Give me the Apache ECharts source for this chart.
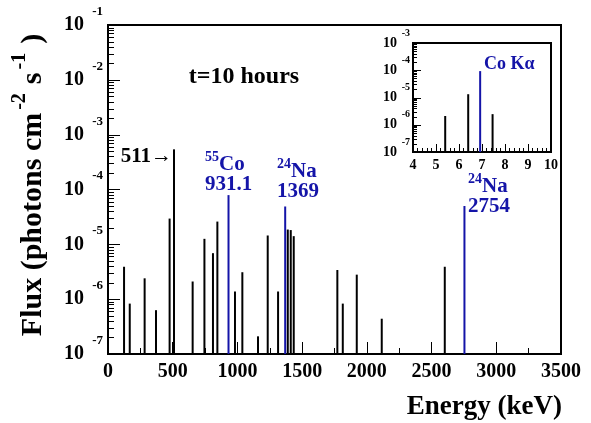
<!DOCTYPE html>
<html>
<head>
<meta charset="utf-8">
<script src="https://cdn.jsdelivr.net/npm/echarts@6/dist/echarts.min.js"></script>
<style>
  html, body { margin: 0; padding: 0; background: #fff; }
  #chart { width: 591px; height: 423px; }
</style>
</head>
<body>
<div id="chart"></div>
<script>
// gamma lines (keV) and flux (photons cm^-2 s^-1)
const lineEnergy = [124, 168, 283, 371, 476, 510, 654, 745, 811, 845, 981, 1038,
  1159, 1234, 1314, 1389, 1412, 1435, 1772, 1814, 1922, 2115, 2602]
const lineFlux = [3.9e-6, 8.3e-7, 2.4e-6, 6.3e-7, 2.95e-5, 5.4e-4, 2.1e-6, 1.26e-5,
  6.9e-6, 2.6e-5, 1.38e-6, 3.1e-6, 2.1e-7, 1.45e-5, 1.38e-6, 1.86e-5, 1.82e-5,
  1.41e-5, 3.4e-6, 8.3e-7, 2.8e-6, 4.4e-7, 3.9e-6]
// highlighted lines: 55Co 931.1, 24Na 1369, 24Na 2754
const markEnergy = [931.1, 1369, 2754]
const markFlux = [7.9e-5, 4.9e-5, 5.0e-5]
// x-ray inset (keV)
const xrayEnergy = [5.40, 6.40, 7.46]
const xrayFlux = [2.1e-6, 1.32e-5, 2.45e-6]
const coKaEnergy = [6.92]
const coKaFlux = [9.3e-5]
// decades of the two log axes
const mainDecades = [-7, -6, -5, -4, -3, -2, -1]
const insetDecades = [-7, -6, -5, -4, -3]

const FONT = 'Liberation Serif'
const BLUE = '#1414a8'
const chart = echarts.init(document.getElementById('chart'))

const ctx = document.createElement('canvas').getContext('2d')
function textWidth(t, size) {
  ctx.font = 'bold ' + size + 'px ' + FONT
  return ctx.measureText(t).width
}

// text pieces laid out left to right, dy moves superscripts up
function pieceRow(pieces, color) {
  let x = 0
  const els = []
  pieces.forEach(p => {
    x += p.pre || 0
    els.push({
      type: 'text', x: x, y: p.dy || 0,
      style: { text: p.t, font: 'bold ' + p.size + 'px ' + FONT, fill: color, align: 'left', verticalAlign: 'middle' }
    })
    x += textWidth(p.t, p.size) + (p.post || 0)
  })
  return { els, width: x }
}

function pairs(xs, ys) {
  return xs.map((x, i) => [x, ys[i]])
}

function stickSeries(data, color, gridIdx, yMin) {
  return {
    type: 'custom',
    xAxisIndex: gridIdx,
    yAxisIndex: gridIdx,
    data: data,
    z: 3,
    renderItem(params, api) {
      const top = api.coord([api.value(0), api.value(1)])
      const bot = api.coord([api.value(0), yMin])
      return {
        type: 'line',
        shape: { x1: top[0], y1: top[1], x2: bot[0], y2: bot[1] },
        style: { stroke: color, lineWidth: 2 }
      }
    }
  }
}

// log ticks on the left edge: major at 10^n, minor at 2..9 x 10^n
function logTicks(decades, gridIdx, xMin, majorLen, minorLen) {
  const out = []
  decades.forEach((d, i) => {
    const ks = i === decades.length - 1 ? [1] : [1, 2, 3, 4, 5, 6, 7, 8, 9]
    ks.forEach(k => {
      const p = chart.convertToPixel({ gridIndex: gridIdx }, [xMin, k * Math.pow(10, d)])
      const x = Math.round(p[0])
      const y = Math.round(p[1]) + 0.5
      out.push({
        type: 'line', z: 100, silent: true,
        shape: { x1: x, y1: y, x2: x + (k === 1 ? majorLen : minorLen), y2: y },
        style: { stroke: '#000', lineWidth: 1 }
      })
    })
  })
  return out
}

// "10" with the exponent raised above its right side
function expLabel(v) {
  return '{e|' + Math.round(Math.log10(v)) + '}\n{b|10}{g| }\n{z| }'
}
function expRich(base, sup, raise, gap) {
  const s = { fontFamily: FONT, fontWeight: 'bold', color: '#000' }
  const h = raise * 2 - base
  return {
    e: Object.assign({ fontSize: sup, lineHeight: h }, s),
    b: Object.assign({ fontSize: base, lineHeight: base }, s),
    g: Object.assign({ fontSize: 2, lineHeight: base, width: gap }, s),
    z: Object.assign({ fontSize: 2, lineHeight: h }, s)
  }
}

// y title, rotated
const yTitle = pieceRow([
  { t: 'Flux (photons cm', size: 30 },
  { t: '-2', size: 20, dy: -13, pre: 3, post: 9 },
  { t: 's', size: 30 },
  { t: '-1', size: 20, dy: -13, pre: 3, post: 9 },
  { t: ')', size: 30 }
], '#000')
yTitle.els.forEach(e => { e.x -= yTitle.width / 2 })

function isotope(x, y, sup, name, energy) {
  const row = pieceRow([
    { t: sup, size: 14, dy: -8 },
    { t: name, size: 21 }
  ], BLUE)
  row.els.push({
    type: 'text', x: 0, y: 20,
    style: { text: energy, font: 'bold 21px ' + FONT, fill: BLUE, align: 'left', verticalAlign: 'middle' }
  })
  return { type: 'group', x: x, y: y, children: row.els }
}

const texts = [
  { type: 'group', x: 33, y: 185, rotation: Math.PI / 2, children: yTitle.els },
  { type: 'text', style: { text: 't=10 hours', x: 244, y: 77, align: 'center', verticalAlign: 'middle',
    font: 'bold 24px ' + FONT, fill: '#000' } },
  { type: 'text', style: { text: '511\u2192', x: 172, y: 157, align: 'right', verticalAlign: 'middle',
    font: 'bold 21px ' + FONT, fill: '#000' } },
  isotope(205, 165, '55', 'Co', '931.1'),
  isotope(277, 172, '24', 'Na', '1369'),
  isotope(468, 187, '24', 'Na', '2754'),
  { type: 'text', style: { text: 'Co K\u03b1', x: 484, y: 64, align: 'left', verticalAlign: 'middle',
    font: 'bold 18px ' + FONT, fill: BLUE } },
  { type: 'text', style: { text: 'Energy (keV)', x: 562, y: 407, align: 'right', verticalAlign: 'middle',
    font: 'bold 27px ' + FONT, fill: '#000' } }
]

const option = {
  animation: false,
  backgroundColor: '#fff',
  grid: [
    { left: 108, right: 30, top: 25, bottom: 69, show: true, borderColor: '#000', borderWidth: 2 },
    { left: 413, right: 40, top: 43, bottom: 271, show: true, borderColor: '#000', borderWidth: 2 }
  ],
  xAxis: [
    {
      type: 'value', gridIndex: 0, min: 0, max: 3500, interval: 500,
      axisLine: { lineStyle: { color: '#000', width: 2 } },
      axisTick: { inside: true, length: 12, lineStyle: { color: '#000', width: 1 } },
      minorTick: { show: true, splitNumber: 2, length: 6, lineStyle: { color: '#000', width: 1 } },
      splitLine: { show: false },
      axisLabel: { color: '#000', fontFamily: FONT, fontWeight: 'bold', fontSize: 20, margin: 8,
        formatter: v => String(v) }
    },
    {
      type: 'value', gridIndex: 1, min: 4, max: 10, interval: 1,
      axisLine: { lineStyle: { color: '#000', width: 2 } },
      axisTick: { inside: true, length: 8, lineStyle: { color: '#000', width: 1 } },
      minorTick: { show: true, splitNumber: 5, length: 4, lineStyle: { color: '#000', width: 1 } },
      splitLine: { show: false },
      axisLabel: { color: '#000', fontFamily: FONT, fontWeight: 'bold', fontSize: 14, margin: 6,
        formatter: v => String(v) }
    }
  ],
  yAxis: [
    {
      type: 'log', gridIndex: 0, min: 1e-7, max: 1e-1, logBase: 10,
      axisLine: { show: true, lineStyle: { color: '#000', width: 2 } },
      axisTick: { show: false },
      splitLine: { show: false },
      axisLabel: { margin: 5, formatter: expLabel, rich: expRich(20, 13, 13.5, 19) }
    },
    {
      type: 'log', gridIndex: 1, min: 1e-7, max: 1e-3, logBase: 10,
      axisLine: { show: true, lineStyle: { color: '#000', width: 2 } },
      axisTick: { show: false },
      splitLine: { show: false },
      axisLabel: { margin: 3, formatter: expLabel, rich: expRich(14, 10, 10, 13) }
    }
  ],
  series: [
    stickSeries(pairs(lineEnergy, lineFlux), '#000', 0, 1e-7),
    stickSeries(pairs(markEnergy, markFlux), BLUE, 0, 1e-7),
    stickSeries(pairs(xrayEnergy, xrayFlux), '#000', 1, 1e-7),
    stickSeries(pairs(coKaEnergy, coKaFlux), BLUE, 1, 1e-7)
  ],
  graphic: texts
}

chart.setOption(option)

// y ticks placed through the axes' own scales
chart.setOption({
  graphic: texts.concat(logTicks(mainDecades, 0, 0, 12, 6), logTicks(insetDecades, 1, 4, 8, 4))
})
</script>
</body>
</html>
